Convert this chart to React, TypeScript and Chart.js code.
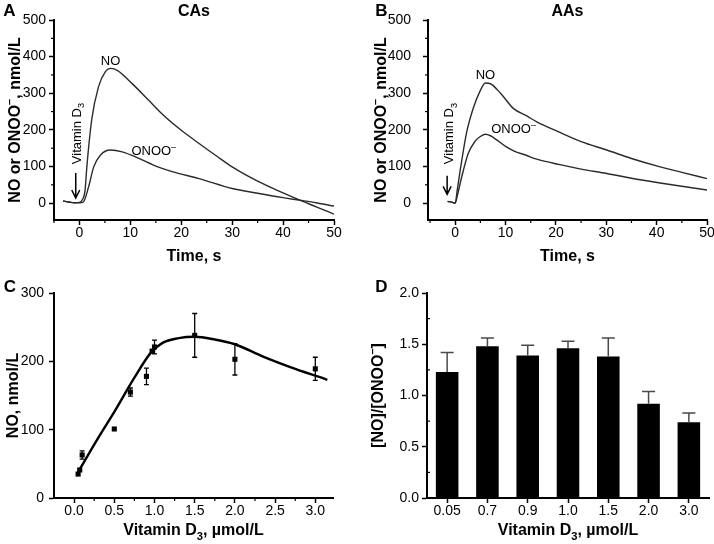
import React, { useEffect, useRef } from 'react';
import { Chart, registerables } from 'chart.js';

Chart.register(...registerables);

const FONT = '"Liberation Sans", Arial, Helvetica, sans-serif';

// ---------- Panel A (CAs) ----------
const timeNoA = [-3.2, -2, -1, 0, 0.5, 1.1, 1.45, 2.4, 3.75, 5.1, 6.1, 7.5, 10.3, 13.6, 16.5, 20, 23.5, 27, 30, 35, 40, 43.3, 46.5, 50];
const valNoA = [6, 3, 1, 2, 8, 35, 99, 227, 318, 359, 368, 362, 327, 281, 240, 199, 163, 128, 99, 60, 28, 8, -10, -30];
const timeOnooA = [-3.2, -2, -1, 0, 0.8, 1.8, 2.8, 4.1, 6.1, 8.4, 11.7, 15, 18.2, 23.5, 30, 35, 40, 43.3, 46.5, 50];
const valOnooA = [6, 3, 1, 1, 4, 45, 99, 131, 145, 140, 122, 101, 86, 67, 40, 27, 15, 8, 1, -8];

// ---------- Panel B (AAs) ----------
const timeNoB = [-1.5, -0.5, 0, 0.4, 1, 2.3, 3.6, 5, 6, 7, 9, 11.6, 14.2, 16.2, 20.8, 25, 30.1, 35, 40.7, 45, 50];
const valNoB = [5, 2, 0, 35, 90, 195, 260, 308, 328, 326, 300, 258, 238, 222, 193, 168, 145, 122, 99, 84, 67];
const timeOnooB = [-1.5, -0.5, 0, 0.5, 1.3, 2.6, 4, 5, 6, 7, 8.3, 10, 11.6, 14.2, 16.2, 20.8, 25, 30.1, 35, 40.7, 45, 50];
const valOnooB = [5, 2, 0, 25, 72, 136, 170, 182, 188, 184, 172, 155, 143, 130, 120, 105, 93, 81, 68, 55, 46, 36];

// ---------- Panel C ----------
const doseC = [0.05, 0.07, 0.1, 0.5, 0.7, 0.9, 0.97, 1.0, 1.5, 2.0, 3.0];
const noC = [35, 41, 63, 101, 155, 178, 215, 221, 238, 203, 189];
const errC = [0, 0, 6, 0, 6, 12, 0, 10, 32, 23, 17];
const fitDoseC = [0.05, 0.3, 0.5, 0.75, 0.95, 1.1, 1.3, 1.5, 1.75, 2.0, 2.35, 2.75, 3.15];
const fitNoC = [38, 88, 126, 176, 212, 227, 234, 236, 232, 225, 207, 189, 173];

// ---------- Panel D ----------
const doseD = ['0.05', '0.7', '0.9', '1.0', '1.5', '2.0', '3.0'];
const ratioD = [1.23, 1.48, 1.39, 1.46, 1.38, 0.92, 0.74];
const errD = [0.19, 0.08, 0.1, 0.07, 0.18, 0.12, 0.09];

// ---------- Ticks ----------
const ticksAY = [0, 100, 200, 300, 400, 500];
const minorAY = [50, 150, 250, 350, 450];
const ticksAX = [0, 10, 20, 30, 40, 50];
const minorAX = [-5, 5, 15, 25, 35, 45];
const ticksCY = [0, 100, 200, 300];
const ticksCX = [0, 0.5, 1.0, 1.5, 2.0, 2.5, 3.0];
const minorCX = [0.25, 0.75, 1.25, 1.75, 2.25, 2.75];
const ticksDY = [0, 0.5, 1.0, 1.5, 2.0];
const minorDY = [0.25, 0.75, 1.25, 1.75];

type Part = { t: string; s?: 'sub' | 'sup' };

function drawRich(ctx: CanvasRenderingContext2D, parts: Part[], x: number, y: number, size: number, bold: boolean, rot = 0) {
  const font = (sz: number) => `${bold ? 'bold ' : ''}${sz}px ${FONT}`;
  const small = size * 0.7;
  const widths = parts.map((p) => {
    ctx.font = font(p.s ? small : size);
    return ctx.measureText(p.t).width;
  });
  const total = widths.reduce((a, b) => a + b, 0);
  ctx.save();
  ctx.translate(x, y);
  ctx.rotate(rot);
  ctx.fillStyle = '#000';
  ctx.textBaseline = 'alphabetic';
  ctx.textAlign = 'left';
  let cx = -total / 2;
  const base = size * 0.36;
  parts.forEach((p, i) => {
    ctx.font = font(p.s ? small : size);
    const dy = p.s === 'sub' ? size * 0.3 : p.s === 'sup' ? -size * 0.4 : 0;
    ctx.fillText(p.t, cx, base + dy);
    cx += widths[i];
  });
  ctx.restore();
}

function minorTicks(chart: any, axisId: string, values: number[], len: number, inward = false) {
  const s = chart.scales[axisId];
  const ctx: CanvasRenderingContext2D = chart.ctx;
  const ca = chart.chartArea;
  ctx.save();
  ctx.strokeStyle = '#000';
  ctx.lineWidth = 1.2;
  values.forEach((v) => {
    const p = s.getPixelForValue(v);
    ctx.beginPath();
    if (s.isHorizontal()) {
      ctx.moveTo(p, ca.bottom);
      ctx.lineTo(p, ca.bottom + (inward ? -len : len));
    } else {
      ctx.moveTo(ca.left, p);
      ctx.lineTo(ca.left + (inward ? len : -len), p);
    }
    ctx.stroke();
  });
  ctx.restore();
}

function arrow(ctx: CanvasRenderingContext2D, x: number, y1: number, y2: number) {
  ctx.save();
  ctx.strokeStyle = '#000';
  ctx.lineWidth = 1.5;
  ctx.beginPath();
  ctx.moveTo(x, y1);
  ctx.lineTo(x, y2);
  ctx.moveTo(x - 4, y2 - 8);
  ctx.lineTo(x, y2);
  ctx.lineTo(x + 4, y2 - 8);
  ctx.stroke();
  ctx.restore();
}

const linAxis = (min: number, max: number, ticks: number[], fmt: (v: number) => string, size: number, isX: boolean, tickPad: number) => ({
  type: 'linear',
  min,
  max,
  afterBuildTicks: (s: any) => {
    s.ticks = ticks.map((v) => ({ value: v }));
  },
  afterFit: (s: any) => {
    if (isX) {
      s.height = size;
      s.paddingLeft = 0;
      s.paddingRight = 0;
    } else {
      s.width = size;
      s.paddingTop = 0;
      s.paddingBottom = 0;
    }
  },
  border: { display: true, color: '#000', width: 2 },
  grid: { display: true, drawOnChartArea: false, drawTicks: true, tickLength: 5, tickColor: '#000', tickWidth: 1.5 },
  ticks: {
    color: '#000',
    font: { family: FONT, size: 14 },
    padding: tickPad,
    maxRotation: 0,
    autoSkip: false,
    callback: (v: any) => fmt(Number(v)),
  },
  title: { display: false },
});

const pts = (xs: number[], ys: number[]) => xs.map((x, i) => ({ x, y: ys[i] }));

const lineDs = (data: any[]) => ({
  data,
  borderColor: '#2b2b2b',
  borderWidth: 1.4,
  pointRadius: 0,
  fill: false,
  cubicInterpolationMode: 'monotone',
});

const common = {
  responsive: false,
  animation: false,
  devicePixelRatio: 1,
  events: [],
};

const plain = (v: number) => String(v);
const one = (v: number) => v.toFixed(1);

function configTime(which: 'A' | 'B') {
  const isA = which === 'A';
  const noData = isA ? pts(timeNoA, valNoA) : pts(timeNoB, valNoB);
  const onooData = isA ? pts(timeOnooA, valOnooA) : pts(timeOnooB, valOnooB);
  const yWidth = isA ? 54 : 71;
  const ann = isA
    ? { no: [6.1, 391], onoo: [14.6, 145], vit: [-0.7, 190], arrowX: -0.73, arrow: [82, 14] }
    : { no: [6.0, 352], onoo: [11.6, 204], vit: [-1.3, 190], arrowX: -1.6, arrow: [75, 24] };
  return {
    type: 'line',
    data: { datasets: [lineDs(noData), lineDs(onooData)] },
    options: {
      ...common,
      layout: { padding: { top: 20, right: isA ? 23 : 7, left: 0, bottom: 0 } },
      plugins: { legend: { display: false }, tooltip: { enabled: false } },
      scales: {
        x: linAxis(isA ? -5 : -5.4, 50, ticksAX, plain, 52, true, 0),
        y: linAxis(-46, 500, ticksAY, plain, yWidth, false, isA ? 3 : 12),
      },
    },
    plugins: [
      {
        id: 'deco' + which,
        afterDraw(chart: any) {
          const ctx: CanvasRenderingContext2D = chart.ctx;
          const ca = chart.chartArea;
          const xs = chart.scales.x;
          const ys = chart.scales.y;
          minorTicks(chart, 'x', minorAX, 3);
          minorTicks(chart, 'y', minorAY, 3);
          const cxm = (ca.left + ca.right) / 2;
          // panel letter and title
          drawRich(ctx, [{ t: which }], isA ? 9.5 : 24.5, 10, 17, true);
          drawRich(ctx, [{ t: isA ? 'CAs' : 'AAs' }], cxm, 10, 16, true);
          // axis titles
          drawRich(ctx, [{ t: 'Time, s' }], cxm, 255, 16, true);
          drawRich(ctx, [{ t: 'NO or ONOO' }, { t: '–', s: 'sup' }, { t: ', nmol/L' }], isA ? 14 : 23, (ca.top + ca.bottom) / 2, 16, true, -Math.PI / 2);
          // annotations
          drawRich(ctx, [{ t: 'NO' }], xs.getPixelForValue(ann.no[0]), ys.getPixelForValue(ann.no[1]), 13, false);
          drawRich(ctx, [{ t: 'ONOO' }, { t: '–', s: 'sup' }], xs.getPixelForValue(ann.onoo[0]), ys.getPixelForValue(ann.onoo[1]), 13, false);
          drawRich(ctx, [{ t: 'Vitamin D' }, { t: '3', s: 'sub' }], xs.getPixelForValue(ann.vit[0]), ys.getPixelForValue(ann.vit[1]), 13, false, -Math.PI / 2);
          arrow(ctx, xs.getPixelForValue(ann.arrowX), ys.getPixelForValue(ann.arrow[0]), ys.getPixelForValue(ann.arrow[1]));
        },
      },
    ],
  };
}

function configC() {
  return {
    type: 'scatter',
    data: {
      datasets: [
        {
          data: pts(fitDoseC, fitNoC),
          showLine: true,
          borderColor: '#000',
          borderWidth: 2.4,
          pointRadius: 0,
          cubicInterpolationMode: 'monotone',
        },
        {
          data: pts(doseC, noC),
          showLine: false,
          pointStyle: 'rect',
          pointRadius: 3.6,
          backgroundColor: '#000',
          borderColor: '#000',
          borderWidth: 0,
        },
      ],
    },
    options: {
      ...common,
      layout: { padding: { top: 21, right: 24, left: 0, bottom: 0 } },
      plugins: { legend: { display: false }, tooltip: { enabled: false } },
      scales: {
        x: linAxis(-0.25, 3.22, ticksCX, one, 46, true, 0),
        y: linAxis(0, 300, ticksCY, plain, 54, false, 5),
      },
    },
    plugins: [
      {
        id: 'errC',
        beforeDatasetsDraw(chart: any) {
          const ctx: CanvasRenderingContext2D = chart.ctx;
          const xs = chart.scales.x;
          const ys = chart.scales.y;
          ctx.save();
          ctx.strokeStyle = '#000';
          ctx.lineWidth = 1.3;
          doseC.forEach((d, i) => {
            if (!errC[i]) return;
            const px = xs.getPixelForValue(d);
            const y1 = ys.getPixelForValue(noC[i] - errC[i]);
            const y2 = ys.getPixelForValue(noC[i] + errC[i]);
            ctx.beginPath();
            ctx.moveTo(px, y1);
            ctx.lineTo(px, y2);
            ctx.moveTo(px - 2.5, y1);
            ctx.lineTo(px + 2.5, y1);
            ctx.moveTo(px - 2.5, y2);
            ctx.lineTo(px + 2.5, y2);
            ctx.stroke();
          });
          ctx.restore();
        },
        afterDraw(chart: any) {
          const ctx: CanvasRenderingContext2D = chart.ctx;
          const ca = chart.chartArea;
          minorTicks(chart, 'x', minorCX, 3);
          drawRich(ctx, [{ t: 'C' }], 10, 14, 17, true);
          drawRich(ctx, [{ t: 'Vitamin D' }, { t: '3', s: 'sub' }, { t: ', µmol/L' }], (ca.left + ca.right) / 2, 257, 16, true);
          drawRich(ctx, [{ t: 'NO, nmol/L' }], 12, (ca.top + ca.bottom) / 2, 16, true, -Math.PI / 2);
        },
      },
    ],
  };
}

function configD() {
  const yAx: any = linAxis(0, 2, ticksDY, one, 70, false, 3);
  return {
    type: 'bar',
    data: {
      labels: doseD,
      datasets: [
        {
          data: ratioD,
          backgroundColor: '#000',
          borderWidth: 0,
          barPercentage: 0.56,
          categoryPercentage: 1.0,
        },
      ],
    },
    options: {
      ...common,
      layout: { padding: { top: 21, right: 5, left: 0, bottom: 0 } },
      plugins: { legend: { display: false }, tooltip: { enabled: false } },
      scales: {
        x: {
          type: 'category',
          offset: true,
          afterFit: (s: any) => {
            s.height = 46;
            s.paddingLeft = 0;
            s.paddingRight = 0;
          },
          border: { display: true, color: '#000', width: 2 },
          grid: { display: true, offset: false, drawOnChartArea: false, drawTicks: true, tickLength: 5, tickColor: '#000', tickWidth: 1.5 },
          ticks: { color: '#000', font: { family: FONT, size: 14 }, padding: 0, maxRotation: 0, autoSkip: false },
        },
        y: yAx,
      },
    },
    plugins: [
      {
        id: 'errD',
        afterDatasetsDraw(chart: any) {
          const ctx: CanvasRenderingContext2D = chart.ctx;
          const ys = chart.scales.y;
          const meta = chart.getDatasetMeta(0);
          ctx.save();
          ctx.strokeStyle = '#4a4a4a';
          ctx.lineWidth = 1.5;
          ratioD.forEach((v, i) => {
            const bar = meta.data[i];
            const px = bar.x;
            const y1 = ys.getPixelForValue(v);
            const y2 = ys.getPixelForValue(v + errD[i]);
            ctx.beginPath();
            ctx.moveTo(px, y1);
            ctx.lineTo(px, y2);
            ctx.moveTo(px - 6.5, y2);
            ctx.lineTo(px + 6.5, y2);
            ctx.stroke();
          });
          ctx.restore();
        },
        afterDraw(chart: any) {
          const ctx: CanvasRenderingContext2D = chart.ctx;
          const ca = chart.chartArea;
          minorTicks(chart, 'y', minorDY, 3, true);
          drawRich(ctx, [{ t: 'D' }], 24.5, 14, 17, true);
          drawRich(ctx, [{ t: 'Vitamin D' }, { t: '3', s: 'sub' }, { t: ', µmol/L' }], (ca.left + ca.right) / 2, 257, 16, true);
          drawRich(ctx, [{ t: '[NO]/[ONOO' }, { t: '–', s: 'sup' }, { t: ']' }], 20, (ca.top + ca.bottom) / 2, 16, true, -Math.PI / 2);
        },
      },
    ],
  };
}

export default function App() {
  const refA = useRef<HTMLCanvasElement>(null);
  const refB = useRef<HTMLCanvasElement>(null);
  const refC = useRef<HTMLCanvasElement>(null);
  const refD = useRef<HTMLCanvasElement>(null);

  useEffect(() => {
    const charts = [
      new Chart(refA.current as HTMLCanvasElement, configTime('A') as any),
      new Chart(refB.current as HTMLCanvasElement, configTime('B') as any),
      new Chart(refC.current as HTMLCanvasElement, configC() as any),
      new Chart(refD.current as HTMLCanvasElement, configD() as any),
    ];
    return () => charts.forEach((c) => c.destroy());
  }, []);

  const cs = (left: number, top: number): React.CSSProperties => ({ position: 'absolute', left, top, display: 'block' });

  return (
    <div style={{ position: 'absolute', left: 0, top: 0, width: 714, height: 544, background: '#fff', overflow: 'hidden' }}>
      <canvas ref={refA} width={357} height={272} style={cs(0, 0)} />
      <canvas ref={refB} width={357} height={272} style={cs(357, 0)} />
      <canvas ref={refC} width={357} height={272} style={cs(0, 272)} />
      <canvas ref={refD} width={357} height={272} style={cs(357, 272)} />
    </div>
  );
}
